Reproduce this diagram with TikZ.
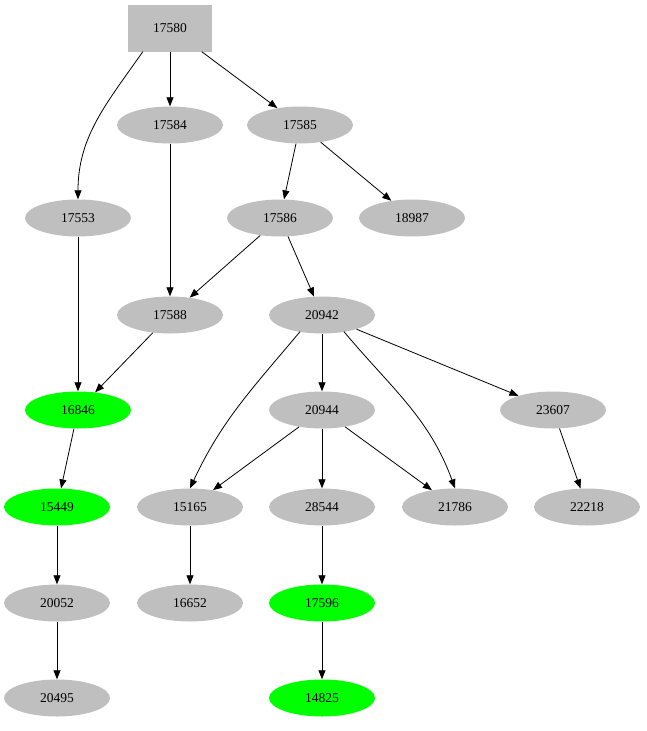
\documentclass[tikz,border=0pt]{standalone}
\usepackage{fontspec}
\setmainfont{Liberation Serif}
\usetikzlibrary{shapes.geometric,arrows.meta}
\begin{document}
\begin{tikzpicture}[x=1pt,y=-1pt,
  el/.style={ellipse,fill=lightgray,minimum width=106pt,minimum height=37pt,inner sep=0pt,font=\fontsize{13.5}{14}\selectfont},
  gr/.style={el,fill=green},
  bx/.style={rectangle,fill=lightgray,minimum width=84pt,minimum height=47pt,font=\fontsize{13.5}{14}\selectfont},
  ar/.style={-{Triangle[length=9pt,width=7pt]},line width=0.8pt}]
\useasboundingbox (0,0) rectangle (646,731);
\node[bx] (a) at (170,28) {17580};
\node[el] (b) at (170,125) {17584};
\node[el] (c) at (300,125) {17585};
\node[el] (d) at (78,218) {17553};
\node[el] (e) at (280,218) {17586};
\node[el] (f) at (412,218) {18987};
\node[el] (g) at (170,315) {17588};
\node[el] (h) at (322,315) {20942};
\node[gr] (i) at (78,410) {16846};
\node[el] (j) at (322,410) {20944};
\node[el] (k) at (553,410) {23607};
\node[gr] (l) at (57,507) {15449};
\node[el] (m) at (190,507) {15165};
\node[el] (n) at (322,507) {28544};
\node[el] (o) at (455,507) {21786};
\node[el] (p) at (587,507) {22218};
\node[el] (q) at (57,603) {20052};
\node[el] (r) at (190,603) {16652};
\node[gr] (s) at (322,603) {17596};
\node[el] (t) at (57,698) {20495};
\node[gr] (u) at (322,698) {14825};
\draw[ar] (a) -- (b);
\draw[ar] (a) -- (c);
\draw[ar] (a.south west) ++(15,0) to[out=-125,in=90] (d.north);
\draw[ar] (c) -- (e);
\draw[ar] (c) -- (f);
\draw[ar] (b) -- (g);
\draw[ar] (e) -- (g);
\draw[ar] (e) -- (h);
\draw[ar] (d) -- (i);
\draw[ar] (g) -- (i);
\draw[ar] (h) -- (j);
\draw[ar] (h) -- (k);
\draw[ar] (h.south) ++(-22,-2) to[out=-130,in=65] (m.north);
\draw[ar] (h.south) ++(22,-2) to[out=-50,in=110] (o.north);
\draw[ar] (j) -- (m);
\draw[ar] (j) -- (n);
\draw[ar] (j) -- (o);
\draw[ar] (k) -- (p);
\draw[ar] (i) -- (l);
\draw[ar] (l) -- (q);
\draw[ar] (q) -- (t);
\draw[ar] (m) -- (r);
\draw[ar] (n) -- (s);
\draw[ar] (s) -- (u);
\end{tikzpicture}
\end{document}
